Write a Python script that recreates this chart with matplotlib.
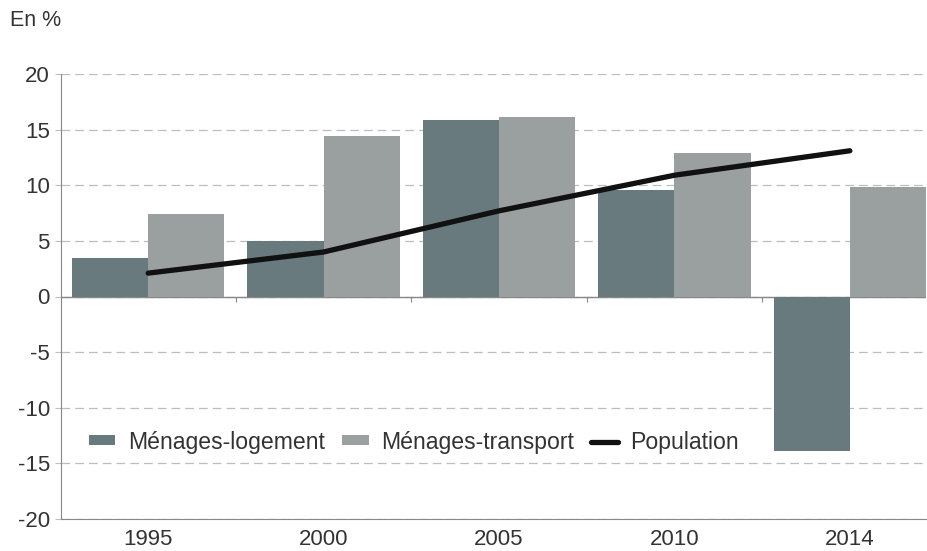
import matplotlib
matplotlib.use("Agg")
import matplotlib.pyplot as plt
import numpy as np

years = ["1995", "2000", "2005", "2010", "2014"]
logement = [3.5, 5.0, 15.9, 9.6, -13.9]
transport = [7.4, 14.4, 16.1, 12.9, 9.8]
population = [2.1, 4.0, 7.7, 10.9, 13.1]

plt.rcParams["font.family"] = ["Liberation Sans", "DejaVu Sans"]
plt.rcParams["axes.unicode_minus"] = False

DARK = "#687a7d"
LIGHT = "#9a9fa0"
TXT = "#333333"

fig = plt.figure(figsize=(9.28, 5.51), dpi=100)
ax = fig.add_axes([61 / 928, 32 / 551, 865 / 928, 445 / 551])

x = np.arange(len(years))
w = 0.434
b1 = ax.bar(x - w / 2, logement, w, color=DARK, label="Ménages-logement", zorder=2)
b2 = ax.bar(x + w / 2, transport, w, color=LIGHT, label="Ménages-transport", zorder=2)
ln, = ax.plot(x, population, color="#111111", lw=3.8, solid_capstyle="round",
              label="Population", zorder=3)

ax.set_ylim(-20, 20)
ax.set_xlim(-0.497, 4.434)
ax.set_yticks(np.arange(-20, 21, 5))
ax.yaxis.grid(True, color="#bdbdbd", ls=(0, (7, 4)), lw=0.9)
ax.set_axisbelow(True)
ax.axhline(0, color="#888888", lw=1.0, zorder=1)
# small separators on the zero line between groups
ax.vlines(x[:-1] + 0.5, -0.45, 0, color="#888888", lw=0.8, zorder=1)

ax.set_xticks(x)
ax.set_xticklabels(years)
ax.tick_params(axis="x", length=0, pad=7, labelsize=16, labelcolor=TXT)
ax.tick_params(axis="y", length=4, color="#bdbdbd", pad=4, labelsize=16,
               labelcolor=TXT)

for s in ["top", "right"]:
    ax.spines[s].set_visible(False)
ax.spines["left"].set_color("#888888")
ax.spines["bottom"].set_color("#888888")

fig.text(10 / 928, 1 - 20 / 551, "En %", fontsize=15.5, color=TXT, va="center")

ax.legend([b1, b2, ln], ["Ménages-logement", "Ménages-transport", "Population"],
          loc="center left", bbox_to_anchor=(0.008, 0.173), ncol=3,
          frameon=False, fontsize=16.6, handlelength=1.15, handleheight=0.3,
          handletextpad=0.55, columnspacing=0.75, labelcolor=TXT)

fig.savefig("out.png", dpi=100)
